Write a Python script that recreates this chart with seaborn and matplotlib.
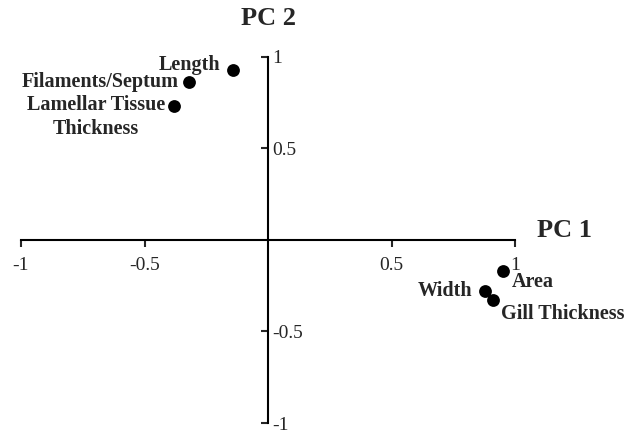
import seaborn as sns
import matplotlib.pyplot as plt
import pandas as pd

# PCA loadings
variables = ['Length', 'Filaments/Septum', 'Lamellar Tissue\nThickness',
             'Area', 'Width', 'Gill Thickness']
pc1 = [-0.14, -0.32, -0.38, 0.95, 0.88, 0.91]
pc2 = [0.93, 0.86, 0.73, -0.17, -0.28, -0.33]
tick_values = [-1, -0.5, 0.5, 1]
tick_labels = ['-1', '-0.5', '0.5', '1']

df = pd.DataFrame({'Variable': variables, 'PC1': pc1, 'PC2': pc2})

sns.set_style('white')
plt.rcParams['font.family'] = ['Liberation Serif', 'DejaVu Serif']

fig = plt.figure(figsize=(6.42, 4.34), dpi=100)
ax = fig.add_axes([0, 0, 1, 1])

sns.scatterplot(data=df, x='PC1', y='PC2', color='black', s=85,
                edgecolor='black', linewidth=0, ax=ax, legend=False)

# label offsets (pixels) and alignment for each point
offsets = {
    'Length': ((-13, 5), 'right', 'center'),
    'Filaments/Septum': ((-10, 0), 'right', 'center'),
    'Lamellar Tissue\nThickness': ((-9, 11), 'right', 'top'),
    'Area': ((9, -11), 'left', 'center'),
    'Width': ((-13, 0), 'right', 'center'),
    'Gill Thickness': ((8, -14), 'left', 'center'),
}
for _, row in df.iterrows():
    off, ha, va = offsets[row['Variable']]
    ax.annotate(row['Variable'], (row['PC1'], row['PC2']), xytext=off,
                textcoords='offset pixels', ha=ha, va=va, ma='center',
                fontsize=14.5, fontweight='bold', linespacing=1.25)

ax.set_xlim(-1.085, 1.514)
ax.set_ylim(-1.06, 1.31)

# axes crossing at the origin
ax.spines['left'].set_position(('data', 0))
ax.spines['bottom'].set_position(('data', 0))
ax.spines['right'].set_position(('data', 0))
ax.spines['left'].set_bounds(-1, 1)
ax.spines['bottom'].set_bounds(-1, 1)
ax.spines['right'].set_visible(False)
ax.spines['top'].set_visible(False)
for s in ['left', 'bottom']:
    ax.spines[s].set_color('black')
    ax.spines[s].set_linewidth(1.5)

ax.set_xticks(tick_values)
ax.set_xticklabels(tick_labels)
ax.set_yticks(tick_values)
ax.set_yticklabels(tick_labels)
ax.tick_params(axis='x', bottom=True, direction='out', length=5, width=1.5,
               pad=7, labelsize=14)
ax.tick_params(axis='y', left=True, right=False, labelleft=False,
               labelright=True, direction='out', length=5, width=1.5,
               pad=-2, labelsize=14)
ax.set_xlabel('')
ax.set_ylabel('')

ax.text(0, 1.21, 'PC 2', ha='center', va='center', fontsize=19,
        fontweight='bold')
ax.text(1.2, 0.05, 'PC 1', ha='center', va='center', fontsize=19,
        fontweight='bold')

fig.savefig('out.png', dpi=100, facecolor='white')
